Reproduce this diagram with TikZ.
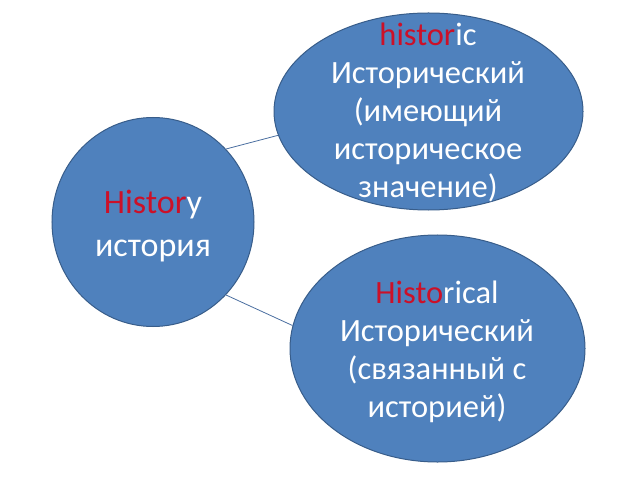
\documentclass[tikz,border=0pt]{standalone}
\usepackage{fontspec}
\setmainfont{Carlito}
\usetikzlibrary{shapes.geometric}
\definecolor{bubblefill}{RGB}{79,129,189}
\definecolor{bubbleline}{RGB}{56,93,138}
\definecolor{linkline}{RGB}{74,110,160}
\definecolor{rootred}{RGB}{204,16,40}
\tikzset{
  bubble/.style={ellipse,draw=bubbleline,fill=bubblefill,line width=1bp,inner sep=0pt},
  bubbletext/.style={text=white,align=center,inner sep=0pt,font=\fontsize{32.5bp}{38.2bp}\selectfont},
  link/.style={draw=linkline,line width=0.8bp},
}
\newcommand{\rootpart}[1]{\textcolor{rootred}{#1}}
\begin{document}
\begin{tikzpicture}[x=1bp,y=-1bp]
  \useasboundingbox (0,0) rectangle (640,480);
%%
  % Node: History
  \node[bubble,minimum width=202bp,minimum height=209bp] (history) at (153,222) {};
  \node[bubbletext,font=\fontsize{34bp}{43bp}\selectfont] (historytext) at (153,226) {\rootpart{Histor}y\\история};
  % Node: Historic
  \node[bubble,minimum width=309bp,minimum height=197bp] (historic) at (428.5,111.5) {};
  \node[bubbletext] (historictext) at (428,112.5) {\rootpart{histor}ic\\Исторический\\(имеющий\\историческое\\значение)};
  % Node: Historical
  \node[bubble,minimum width=295bp,minimum height=227bp] (historical) at (437.5,348.5) {};
  \node[bubbletext] (historicaltext) at (437,352) {\rootpart{Histo}rical\\Исторический\\(связанный с\\историей)};
  % Edge: History -> Historic
  \draw[link] (history.45) -- (historic.189.7);
  % Edge: History -> Historical
  \draw[link] (history.-45) -- (historical.171);
%
\end{tikzpicture}
\end{document}
